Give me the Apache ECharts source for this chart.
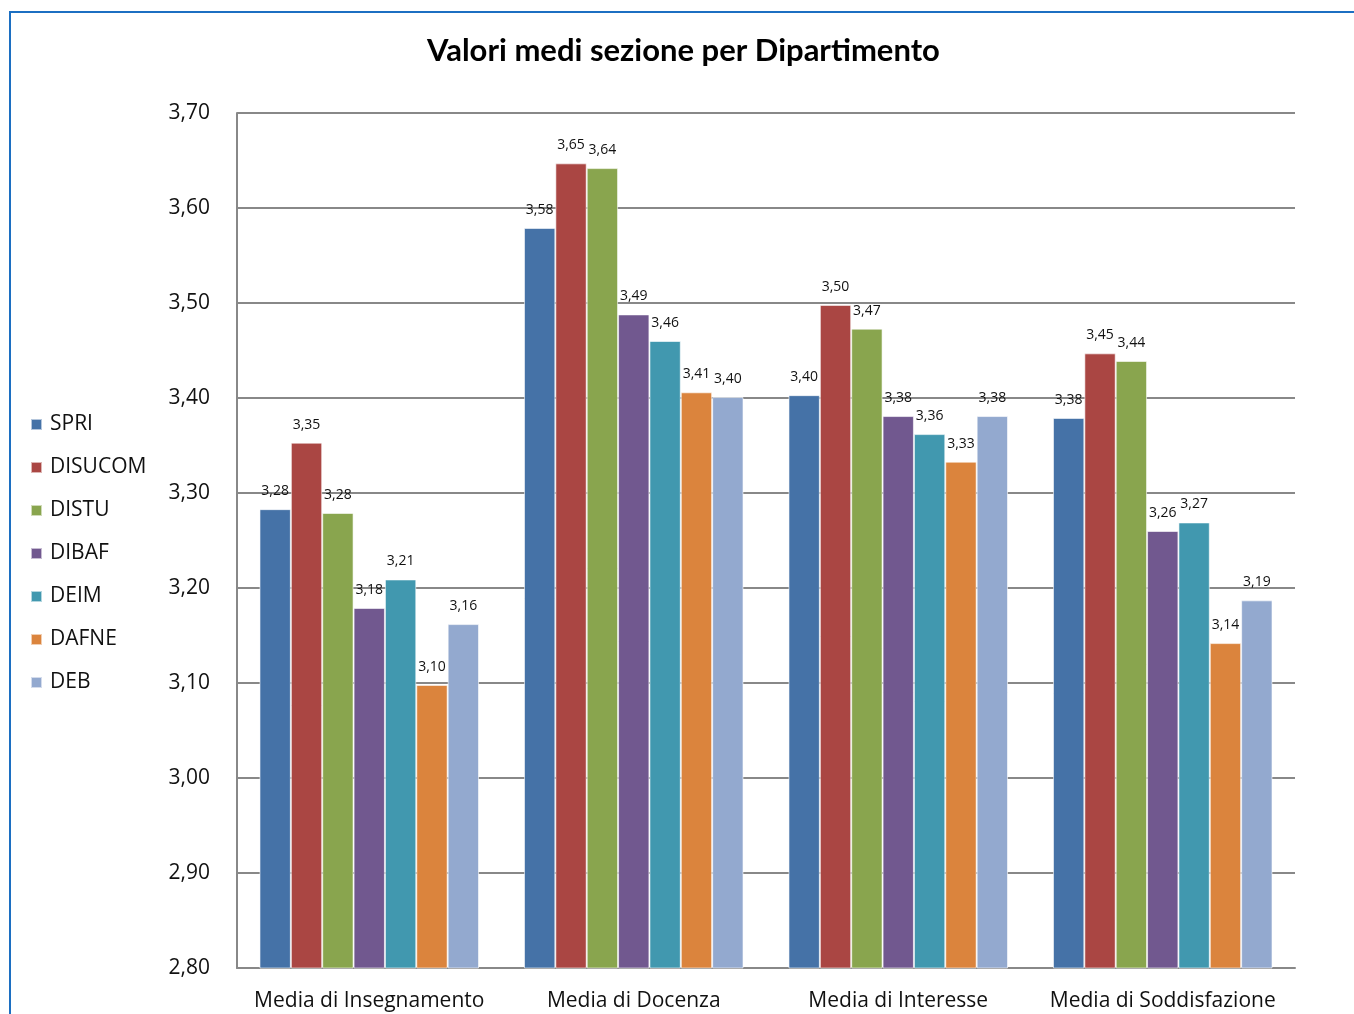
<!DOCTYPE html>
<html>
<head>
<meta charset="utf-8">
<script src="https://cdn.jsdelivr.net/npm/echarts@6/dist/echarts.min.js"></script>
<style>
  html, body { margin: 0; padding: 0; background: #fff; }
  #frame { position: absolute; left: 9px; top: 11px; width: 1345px; height: 1003px;
           border-left: 2px solid #1c6fc2; border-top: 2px solid #1c6fc2; }
  #chart { position: absolute; left: 0; top: 0; width: 1354px; height: 1014px; }
</style>
</head>
<body>
<div id="frame"></div>
<div id="chart"></div>
<script>
var categories = ['Media di Insegnamento', 'Media di Docenza', 'Media di Interesse', 'Media di Soddisfazione'];
var departments = ['SPRI', 'DISUCOM', 'DISTU', 'DIBAF', 'DEIM', 'DAFNE', 'DEB'];
var spri    = [3.283, 3.579, 3.403, 3.379];
var disucom = [3.353, 3.647, 3.498, 3.447];
var distu   = [3.279, 3.642, 3.473, 3.439];
var dibaf   = [3.179, 3.488, 3.381, 3.260];
var deim    = [3.209, 3.460, 3.362, 3.269];
var dafne   = [3.098, 3.406, 3.333, 3.142];
var deb     = [3.162, 3.401, 3.381, 3.187];
var yTicks  = [2.8, 3.7, 0.1];

var colors = ['#4572A7', '#AA4643', '#89A54E', '#71588F', '#4198AF', '#DB843D', '#93A9CF'];
var values = [spri, disucom, distu, dibaf, deim, dafne, deb];
var fmt = function (v) { return v.toFixed(2).replace('.', ','); };

var myChart = echarts.init(document.getElementById('chart'));
var option = {
	animation: false,
	color: colors,
	title: {
		text: 'Valori medi sezione per Dipartimento',
		left: 422,
		top: 30,
		textStyle: { fontFamily: 'Lato', fontSize: 31, fontWeight: 'bold', color: '#000' }
	},
	legend: {
		orient: 'vertical',
		left: 25,
		top: 409,
		itemWidth: 11,
		itemHeight: 11,
		itemGap: 22,
		icon: 'rect',
		data: departments,
		textStyle: { fontFamily: 'Open Sans', fontSize: 21, color: '#111', padding: [0, 0, 0, 3] }
	},
	grid: { left: 237, right: 59, top: 113, bottom: 46 },
	xAxis: {
		type: 'category',
		data: categories,
		axisLine: { lineStyle: { color: '#888', width: 2 } },
		axisTick: { show: false },
		axisLabel: { interval: 0, fontFamily: 'Open Sans', fontSize: 21, color: '#111', margin: 23 }
	},
	yAxis: {
		type: 'value',
		min: yTicks[0],
		max: yTicks[1],
		interval: yTicks[2],
		axisLine: { show: true, lineStyle: { color: '#888', width: 2 } },
		axisTick: { show: true, length: 5, inside: true, lineStyle: { color: '#888', width: 2 } },
		splitLine: { lineStyle: { color: '#888', width: 2 } },
		axisLabel: {
			fontFamily: 'Open Sans', fontSize: 21, color: '#111', margin: 27,
			formatter: function (v) { return fmt(v); }
		}
	},
	series: departments.map(function (name, i) {
		return {
			name: name,
			type: 'bar',
			data: values[i],
			barGap: '0%',
			barCategoryGap: '17%',
			itemStyle: { color: colors[i], borderColor: 'rgba(255,255,255,0.6)', borderWidth: 1 },
			label: {
				show: true,
				position: 'top',
				distance: 11,
				fontFamily: 'Open Sans',
				fontSize: 14,
				color: '#111',
				formatter: function (p) { return fmt(p.value); }
			}
		};
	})
};
myChart.setOption(option);
</script>
</body>
</html>
